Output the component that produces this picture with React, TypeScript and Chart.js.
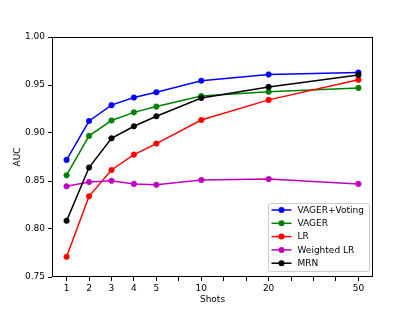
import React, { useEffect, useRef } from "react";
import { Chart, registerables } from "chart.js";

Chart.register(...registerables);

const xTickLabels = ["1", "2", "3", "4", "5", "", "10", "", "", "20", "", "", "", "50"];
const shots = ["1", "2", "3", "4", "5", "10", "20", "50"];
const yTicks = [0.75, 0.8, 0.85, 0.9, 0.95, 1.0];

const seriesNames = ["VAGER+Voting", "VAGER", "LR", "Weighted LR", "MRN"];
const seriesColors = ["#0000ff", "#008000", "#ff0000", "#bf00bf", "#000000"];

const vagerVoting = [0.872, 0.9125, 0.929, 0.937, 0.9425, 0.9545, 0.961, 0.963];
const vager = [0.856, 0.897, 0.913, 0.9215, 0.9275, 0.9385, 0.943, 0.947];
const lr = [0.771, 0.834, 0.8615, 0.8775, 0.889, 0.9135, 0.9345, 0.9555];
const weightedLr = [0.8445, 0.849, 0.8502, 0.847, 0.846, 0.851, 0.852, 0.847];
const mrn = [0.8085, 0.864, 0.8945, 0.907, 0.9175, 0.9365, 0.948, 0.9605];

const seriesValues = [vagerVoting, vager, lr, weightedLr, mrn];

const FONT = "'DejaVu Sans', sans-serif";

const framePlugin = {
  id: "frame",
  afterDatasetsDraw(chart: any) {
    const { ctx, chartArea } = chart;
    ctx.save();
    ctx.strokeStyle = "#000000";
    ctx.lineWidth = 1;
    ctx.strokeRect(
      Math.round(chartArea.left) + 0.5,
      Math.round(chartArea.top) + 0.5,
      Math.round(chartArea.right - chartArea.left) - 1,
      Math.round(chartArea.bottom - chartArea.top) - 1
    );
    ctx.restore();
  },
};

const legendPlugin = {
  id: "customLegend",
  afterDraw(chart: any) {
    const { ctx, chartArea } = chart;
    const w = 101;
    const h = 68;
    const x = Math.round(chartArea.right - 4 - w) + 0.5;
    const y = Math.round(chartArea.bottom - 6 - h) + 0.5;
    ctx.save();
    ctx.beginPath();
    const r = 2;
    ctx.moveTo(x + r, y);
    ctx.lineTo(x + w - r, y);
    ctx.quadraticCurveTo(x + w, y, x + w, y + r);
    ctx.lineTo(x + w, y + h - r);
    ctx.quadraticCurveTo(x + w, y + h, x + w - r, y + h);
    ctx.lineTo(x + r, y + h);
    ctx.quadraticCurveTo(x, y + h, x, y + h - r);
    ctx.lineTo(x, y + r);
    ctx.quadraticCurveTo(x, y, x + r, y);
    ctx.closePath();
    ctx.fillStyle = "rgba(255,255,255,0.8)";
    ctx.fill();
    ctx.strokeStyle = "#cccccc";
    ctx.lineWidth = 1;
    ctx.stroke();
    ctx.font = `9px ${FONT}`;
    ctx.textBaseline = "middle";
    ctx.textAlign = "left";
    chart.data.datasets.forEach((ds: any, i: number) => {
      const cy = y + 6.5 + i * 13.3;
      ctx.strokeStyle = ds.borderColor;
      ctx.lineWidth = 1.5;
      ctx.beginPath();
      ctx.moveTo(x + 3, cy);
      ctx.lineTo(x + 23, cy);
      ctx.stroke();
      ctx.fillStyle = ds.borderColor;
      ctx.beginPath();
      ctx.arc(x + 13, cy, 3, 0, Math.PI * 2);
      ctx.fill();
      ctx.fillStyle = "#000000";
      ctx.fillText(ds.label, x + 29, cy + 0.5);
    });
    ctx.restore();
  },
};

export default function App() {
  const ref = useRef<HTMLCanvasElement | null>(null);

  useEffect(() => {
    document.body.style.margin = "0";
    if (!ref.current) return;
    const datasets = seriesNames.map((name, i) => ({
      label: name,
      data: shots.map((s, j) => ({ x: xTickLabels.indexOf(s) + 1, y: seriesValues[i][j] })),
      borderColor: seriesColors[i],
      backgroundColor: seriesColors[i],
      pointBackgroundColor: seriesColors[i],
      pointBorderColor: seriesColors[i],
      pointRadius: 2.8,
      pointBorderWidth: 0.5,
      borderWidth: 1.5,
      tension: 0,
      order: seriesNames.length - i,
    }));
    const chart = new Chart(ref.current, {
      type: "line",
      data: { datasets },
      plugins: [framePlugin, legendPlugin],
      options: {
        animation: false,
        responsive: false,
        devicePixelRatio: 1,
        layout: { padding: { top: 37, right: 42, left: 0, bottom: 0 } },
        plugins: { legend: { display: false }, tooltip: { enabled: false } },
        scales: {
          x: {
            type: "linear",
            min: 0.35,
            max: 14.65,
            afterFit: (s: any) => {
              s.height = 34;
            },
            afterBuildTicks: (s: any) => {
              s.ticks = xTickLabels.map((_, i) => ({ value: i + 1 }));
            },
            ticks: {
              autoSkip: false,
              maxRotation: 0,
              padding: 2,
              color: "#000000",
              font: { family: FONT, size: 9 },
              callback: (v: any) => xTickLabels[Math.round(Number(v)) - 1] ?? "",
            },
            grid: { drawOnChartArea: false, drawTicks: true, tickLength: 4, color: "#000000" },
            border: { display: false },
            title: {
              display: true,
              text: "Shots",
              color: "#000000",
              font: { family: FONT, size: 9 },
              padding: { top: 0, bottom: 5.8 },
            },
          },
          y: {
            type: "linear",
            min: 0.75,
            max: 1.0,
            afterFit: (s: any) => {
              s.width = 52;
            },
            afterBuildTicks: (s: any) => {
              s.ticks = yTicks.map((v) => ({ value: v }));
            },
            ticks: {
              padding: 3,
              color: "#000000",
              font: { family: FONT, size: 9 },
              callback: (v: any) => Number(v).toFixed(2),
            },
            grid: { drawOnChartArea: false, drawTicks: true, tickLength: 4, color: "#000000" },
            border: { display: false },
            title: {
              display: true,
              text: "AUC",
              color: "#000000",
              font: { family: FONT, size: 9 },
              padding: { top: 12.4, bottom: 0 },
            },
          },
        },
      },
    });
    return () => chart.destroy();
  }, []);

  return (
    <div style={{ width: 415, height: 311 }}>
      <canvas ref={ref} width={415} height={311} style={{ display: "block" }} />
    </div>
  );
}
